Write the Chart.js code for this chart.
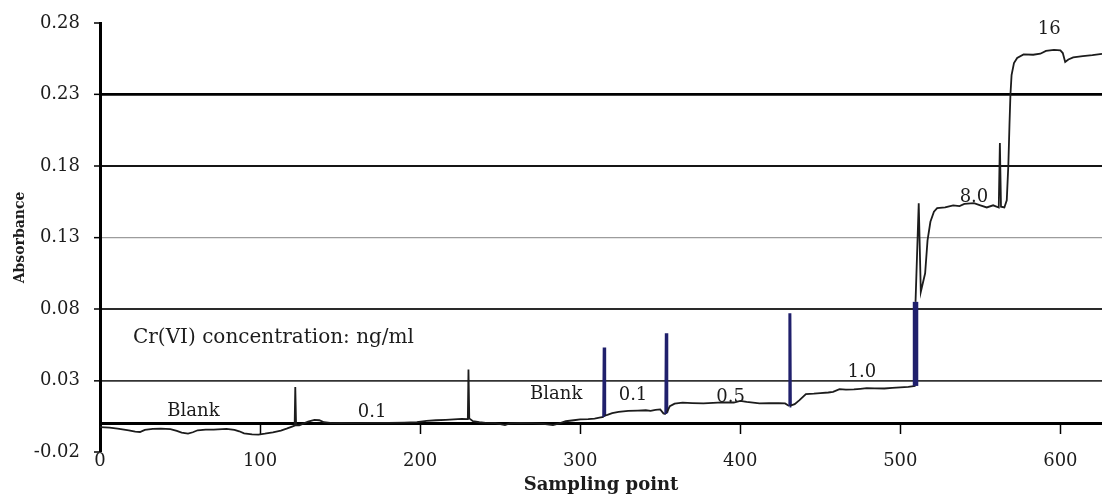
<!DOCTYPE html>
<html>
<head>
<meta charset="utf-8">
<title>Cr(VI) absorbance trace</title>
<script src="https://cdn.jsdelivr.net/npm/chart.js@4.4.1/dist/chart.umd.min.js"></script>
<style>
  html, body { margin: 0; padding: 0; background: #ffffff; }
  #wrap { position: relative; width: 1102px; height: 497px; }
</style>
</head>
<body>
<div id="wrap"><canvas id="trace"></canvas></div>
<script>
// Sampling point index and recorded absorbance along the run
const sampleNo = [
  0, 6, 11, 18, 22, 25, 28, 33, 38, 44, 48, 51, 55, 58, 61, 66, 71, 79, 84, 87,
  90, 95, 99, 103, 108, 113, 117, 120, 121.6, 122, 122.5, 124.5, 127, 130, 134, 137, 140, 145,
  150, 160, 170, 180, 190, 198, 204, 210, 216, 221, 226, 229.8, 230.2, 230.7, 233, 237,
  241, 247, 253, 256, 262, 270, 277, 283, 287, 291, 296, 300, 305, 309, 312,
  314.7, 315, 315.3, 317, 320, 324, 330, 336, 341, 344, 347, 350, 352, 353.5, 353.8, 354.1,
  356, 359, 364, 370, 377, 383, 389, 396, 400, 404, 412, 418, 424, 428, 430, 430.8, 431, 431.3,
  434, 437, 441, 446, 450, 455, 458, 462, 466, 471, 475, 479, 484, 490, 495, 500, 505,
  509.5, 509.5, 511.5, 512.8, 515.5, 517, 518.8, 521, 523, 528, 533, 537, 540, 546, 550, 554,
  558, 561.5, 562.2, 562.9, 565, 566.5, 567.5, 568.2, 568.8, 569.5, 571, 573, 577, 583, 587.5,
  591, 596, 600, 601.5, 603, 605, 608, 614, 620, 626
];
const absorbance = [
  -0.0026, -0.0030, -0.0037, -0.0048, -0.0058, -0.0060, -0.0045, -0.0038, -0.0037, -0.0040,
  -0.0052, -0.0064, -0.0071, -0.0062, -0.0048, -0.0043, -0.0043, -0.0038, -0.0045, -0.0055,
  -0.0070, -0.0077, -0.0078, -0.0072, -0.0062, -0.0050, -0.0035, -0.0022, -0.0015, 0.0255,
  -0.0012, -0.0014, -0.0002, 0.0012, 0.0025, 0.0022, 0.0008, 0.0002,
  0.0003, 0.0002, 0.0004, 0.0003, 0.0005, 0.0008, 0.0018, 0.0022, 0.0025, 0.0028, 0.0032,
  0.0030, 0.0377, 0.0035, 0.0015, 0.0008,
  0.0004, 0.0002, -0.0012, 0.0000, 0.0003, 0.0002, -0.0003, -0.0012, 0.0000, 0.0015, 0.0022,
  0.0028, 0.0030, 0.0034, 0.0040,
  0.0045, 0.0530, 0.0055, 0.0060, 0.0072, 0.0080, 0.0088, 0.0090, 0.0092, 0.0088, 0.0095,
  0.0098, 0.0070, 0.0065, 0.0630, 0.0075,
  0.0120, 0.0138, 0.0145, 0.0142, 0.0140, 0.0143, 0.0147, 0.0146, 0.0158, 0.0150, 0.0140,
  0.0142, 0.0141, 0.0140, 0.0125, 0.0122, 0.0770, 0.0124,
  0.0135, 0.0163, 0.0205, 0.0208, 0.0212, 0.0216, 0.0220, 0.0239, 0.0236, 0.0238, 0.0242,
  0.0246, 0.0245, 0.0244, 0.0248, 0.0252, 0.0255,
  0.0262, 0.0850, 0.1540, 0.0920, 0.1050, 0.1280, 0.1410, 0.1480, 0.1505, 0.1510, 0.1525,
  0.1520, 0.1535, 0.1540, 0.1525, 0.1510,
  0.1525, 0.1510, 0.1960, 0.1515, 0.1510, 0.1560, 0.1810, 0.2090, 0.2300, 0.2435, 0.2520,
  0.2555, 0.2580, 0.2578, 0.2585,
  0.2605, 0.2612, 0.2608, 0.2590, 0.2528, 0.2545, 0.2560, 0.2568, 0.2575, 0.2584
];

// Injection marks drawn in navy on the trace
const injectionAt = [315, 353.8, 431, 509.5];
const injectionStroke = [3, 3, 3, 5.5];

// Axis ticks
const xTicks = [0, 100, 200, 300, 400, 500, 600];
const yTicks = [-0.02, 0.03, 0.08, 0.13, 0.18, 0.23, 0.28];
const yTickLabels = ['-0.02', '0.03', '0.08', '0.13', '0.18', '0.23', '0.28'];

// Concentration notes along the trace (text, sampling point, absorbance)
const noteText = ['Blank', '0.1', 'Blank', '0.1', '0.5', '1.0', '8.0', '16'];
const noteX = [58.4, 170, 285, 333, 394, 476, 546, 593];
const noteY = [0.0085, 0.0078, 0.0205, 0.0193, 0.018, 0.0354, 0.158, 0.2757];
const unitNote = 'Cr(VI) concentration: ng/ml';
const unitNoteAt = [20.6, 0.060];

// Styling
const INK = '#1c1c1c';
const NAVY = '#20206c';
const SERIF = "'DejaVu Serif', 'Liberation Serif', serif";
const gridColors = ['rgba(0,0,0,0)', '#333333', '#2a2a2a', '#9c9c9c', '#151515', '#000000', 'rgba(0,0,0,0)'];
const gridWidths = [0, 1.7, 2, 1.3, 2, 2.7, 0];

const points = sampleNo.map((x, i) => ({ x: x, y: absorbance[i] }));

function injectionIndex(ctx) {
  const a = ctx.p0.parsed.x, b = ctx.p1.parsed.x;
  for (let k = 0; k < injectionAt.length; k++) {
    const m = injectionAt[k];
    if (Math.abs(a - m) <= 0.5 && Math.abs(b - m) <= 0.5) return k;
  }
  return -1;
}

const notesPlugin = {
  id: 'concentrationNotes',
  afterDatasetsDraw(chart) {
    const { ctx, scales } = chart;
    ctx.save();
    ctx.fillStyle = INK;
    ctx.textBaseline = 'middle';
    ctx.textAlign = 'center';
    ctx.font = '18px ' + SERIF;
    noteText.forEach((t, i) => {
      ctx.fillText(t, scales.x.getPixelForValue(noteX[i]), scales.y.getPixelForValue(noteY[i]));
    });
    ctx.textAlign = 'left';
    ctx.font = '20px ' + SERIF;
    ctx.fillText(unitNote, scales.x.getPixelForValue(unitNoteAt[0]), scales.y.getPixelForValue(unitNoteAt[1]));
    ctx.restore();
  }
};

new Chart(document.getElementById('trace'), {
  type: 'scatter',
  data: {
    datasets: [{
      label: 'Absorbance',
      data: points,
      showLine: true,
      borderColor: INK,
      borderWidth: 1.8,
      pointRadius: 0,
      pointHoverRadius: 0,
      tension: 0,
      segment: {
        borderColor: ctx => injectionIndex(ctx) >= 0 ? NAVY : INK,
        borderWidth: ctx => {
          const k = injectionIndex(ctx);
          return k >= 0 ? injectionStroke[k] : 1.8;
        }
      }
    }]
  },
  options: {
    responsive: true,
    maintainAspectRatio: false,
    animation: false,
    devicePixelRatio: 1,
    layout: { padding: { top: 17, left: 0, right: 0, bottom: 0 } },
    font: { family: SERIF },
    plugins: {
      legend: { display: false },
      tooltip: { enabled: false }
    },
    scales: {
      x: {
        type: 'linear',
        position: 'bottom',
        min: 0,
        max: 626,
        afterBuildTicks: s => { s.ticks = xTicks.map(v => ({ value: v })); },
        afterFit: s => { s.height = 45; },
        border: { display: false },
        grid: { display: false, drawTicks: false },
        ticks: {
          color: INK,
          padding: 0,
          maxRotation: 0,
          font: { family: SERIF, size: 18, lineHeight: 1 },
          callback: v => String(v)
        },
        title: {
          display: true,
          text: 'Sampling point',
          color: INK,
          padding: { top: 0, bottom: 3 },
          font: { family: SERIF, size: 18, weight: 'bold', lineHeight: 1 }
        }
      },
      x2: {
        type: 'linear',
        axis: 'x',
        position: { y: 0 },
        min: 0,
        max: 626,
        afterBuildTicks: s => { s.ticks = xTicks.map(v => ({ value: v })); },
        border: { display: true, color: '#000000', width: 3 },
        grid: {
          drawOnChartArea: false,
          drawTicks: true,
          tickLength: 9,
          tickColor: '#000000',
          tickWidth: 1.5
        },
        ticks: { display: false }
      },
      y: {
        type: 'linear',
        position: 'left',
        min: -0.02,
        max: 0.28,
        afterBuildTicks: s => { s.ticks = yTicks.map(v => ({ value: v })); },
        afterFit: s => { s.width = 100; },
        border: { display: true, color: '#000000', width: 3 },
        grid: {
          color: c => gridColors[c.index] || 'rgba(0,0,0,0)',
          lineWidth: c => gridWidths[c.index] || 0,
          drawTicks: true,
          tickLength: 6,
          tickColor: '#000000',
          tickWidth: 1.5
        },
        ticks: {
          color: INK,
          padding: 14,
          font: { family: SERIF, size: 18, lineHeight: 1 },
          callback: (v, i) => yTickLabels[i]
        },
        title: {
          display: true,
          text: 'Absorbance',
          color: INK,
          padding: { top: 12, bottom: 0 },
          font: { family: SERIF, size: 14, weight: 'bold', lineHeight: 1.2 }
        }
      }
    }
  },
  plugins: [notesPlugin]
});
</script>
</body>
</html>
